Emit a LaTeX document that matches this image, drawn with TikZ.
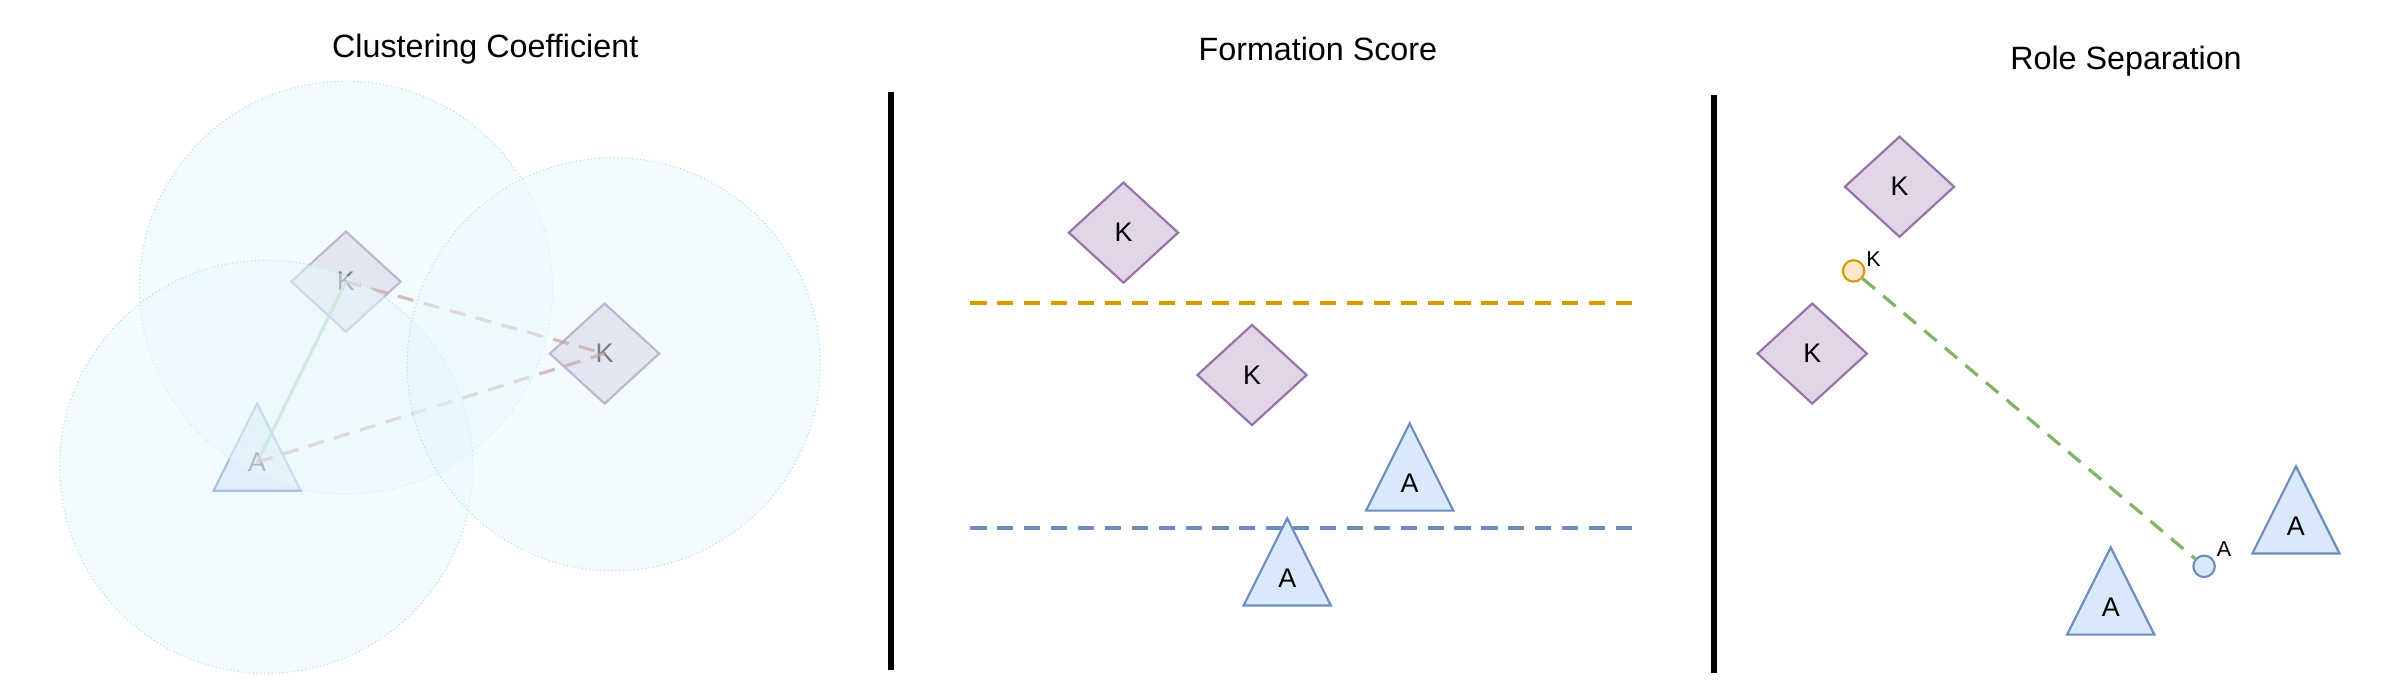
\documentclass[tikz,border=0pt]{standalone}
\usepackage{fontspec}
\setmainfont{Liberation Sans}
\usetikzlibrary{shapes.geometric}
\definecolor{kfill}{HTML}{E1D5E7}
\definecolor{kdraw}{HTML}{9673A6}
\definecolor{afill}{HTML}{DAE8FC}
\definecolor{adraw}{HTML}{6C8EBF}
\definecolor{orng}{HTML}{D79B00}
\definecolor{orngfill}{HTML}{FFE6CC}
\definecolor{grn}{HTML}{82B366}
\definecolor{rd}{HTML}{B85450}
\definecolor{zone}{HTML}{B1DDF0}
\definecolor{zonefill}{HTML}{E6F7FC}
\begin{document}
\begin{tikzpicture}[x=0.02cm,y=-0.02cm,
    font=\normalsize,
    knode/.style={diamond,fill=kfill,draw=kdraw,thick,minimum width=1.44cm,minimum height=1.32cm,inner sep=0pt},
    anode/.style={isosceles triangle,isosceles triangle stretches,shape border rotate=90,fill=afill,draw=adraw,thick,minimum width=1.14cm,minimum height=1.14cm,inner sep=0pt},
    zone node/.style={circle,draw=zone,densely dotted,fill=zonefill,fill opacity=0.5,minimum size=5.4cm},
    dot node/.style={circle,thick,minimum size=0.28cm,inner sep=0pt},
    link/.style={very thick,dash pattern=on 6pt off 4pt},
    title/.style={font=\large},
    ]
    \useasboundingbox (0,0) rectangle (1568,455);

    % clustering coefficient
    \node[title] (t1) at (317,32) {Clustering Coefficient};
    \node[knode] (k1) at (226,184) {K};
    \node[knode] (k2) at (395,231) {K};
    \node[anode] (a1) at (168,303) {};
    \node (la1) at (168,302) {A};
    \draw[grn,very thick,opacity=0.8] (la1.center) -- (k1.center);
    \draw[rd,link,opacity=0.75] (k1.center) -- (k2.center);
    \draw[rd,link,opacity=0.75] (la1.center) -- (k2.center);
    \node[zone node] (z1) at (226,188) {};
    \node[zone node] (z2) at (174,305) {};
    \node[zone node] (z3) at (401,238) {};

    % separators
    \coordinate (s1a) at (582,60);
    \coordinate (s1b) at (582,438);
    \coordinate (s2a) at (1120,62);
    \coordinate (s2b) at (1120,440);
    \draw[line width=2.2pt] (s1a) -- (s1b);
    \draw[line width=2.2pt] (s2a) -- (s2b);

    % formation score
    \node[title] (t2) at (861,32) {Formation Score};
    \coordinate (o1) at (634,198);
    \coordinate (o2) at (1070,198);
    \coordinate (b1) at (634,345);
    \coordinate (b2) at (1070,345);
    \draw[orng,link] (o1) -- (o2);
    \draw[adraw,link] (b1) -- (b2);
    \node[knode] (k3) at (734,152) {K};
    \node[knode] (k4) at (818,245) {K};
    \node[anode] (a2) at (921,316) {};
    \node (la2) at (921,316) {A};
    \node[anode] (a3) at (841,378) {};
    \node (la3) at (841,378) {A};

    % role separation
    \node[title] (t3) at (1389,40) {Role Separation};
    \node[knode] (k5) at (1241,122) {K};
    \node[knode] (k6) at (1184,231) {K};
    \node[anode] (a4) at (1500,344) {};
    \node (la4) at (1500,344) {A};
    \node[anode] (a5) at (1379,397) {};
    \node (la5) at (1379,397) {A};
    \node[dot node,draw=orng,fill=orngfill] (ck) at (1211,177) {};
    \node[dot node,draw=adraw,fill=afill] (ca) at (1440,370) {};
    \node[font=\footnotesize] (lk) at (1224,169) {K};
    \node[font=\footnotesize] (lca) at (1453,359) {A};
    \draw[grn,link] (ck) -- (ca);
\end{tikzpicture}
\end{document}
